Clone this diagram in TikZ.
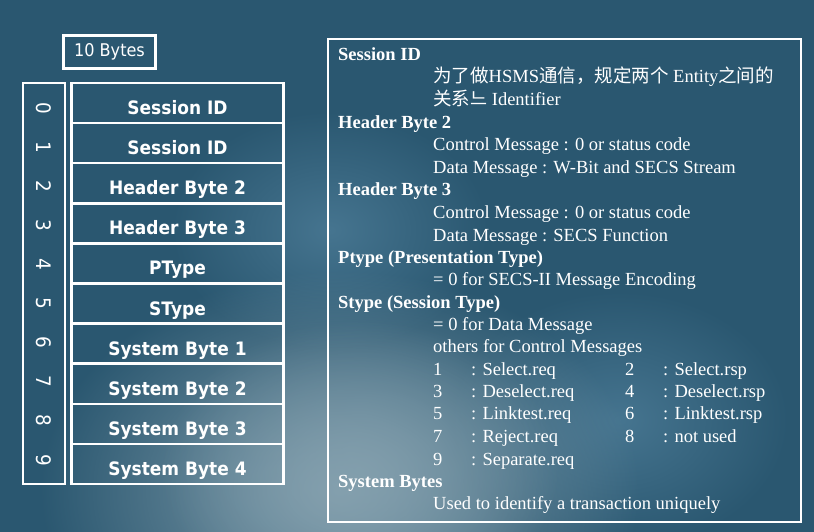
\documentclass[tikz,border=0pt]{standalone}
\usepackage{fontspec}
\usetikzlibrary{fadings}
\setmainfont{Liberation Serif}
\newfontfamily\tah[FakeStretch=0.92]{DejaVu Sans}
\newfontfamily\cjk{Noto Sans CJK SC}
\definecolor{bgA}{HTML}{2A5770}
\definecolor{bgB}{HTML}{84A0AE}
\definecolor{bgC}{HTML}{467590}
\tikzfading[name=glow, inner color=transparent!0, outer color=transparent!100]
\begin{document}
\begin{tikzpicture}[x=1pt,y=-1pt,
  wline/.style={draw=white,line width=2.6pt},
  field/.style={font=\tah\bfseries\fontsize{18.5}{20}\selectfont,text=white,anchor=base,inner sep=0pt},
  digit/.style={font=\tah\fontsize{20}{22}\selectfont,text=white,rotate=-90,inner sep=0pt},
  head/.style={font=\bfseries\fontsize{18.5}{20}\selectfont,text=white,anchor=base west,inner sep=0pt},
  body/.style={font=\fontsize{18.5}{20}\selectfont,text=white,anchor=base west,inner sep=0pt}]
\useasboundingbox (0,0) rectangle (814,532);
\begin{scope}
\clip (0,0) rectangle (814,532);
\fill[bgA] (0,0) rectangle (814,532);
\fill[bgC,path fading=glow] (330,230) ellipse [x radius=160pt,y radius=120pt];
\fill[bgC,path fading=glow] (620,420) ellipse [x radius=170pt,y radius=130pt];
\fill[bgB,path fading=glow] (340,490) ellipse [x radius=300pt,y radius=220pt];
\fill[bgB,path fading=glow,opacity=0.8] (360,470) ellipse [x radius=200pt,y radius=150pt];
\end{scope}
% 10 Bytes box
\node[draw=white,line width=2.6pt,minimum width=92pt,minimum height=33pt,inner sep=0pt,text=white,font=\tah\fontsize{17.5}{20}\selectfont] (bytes) at (109.5,52) {10 Bytes};
% index column
\node[wline,minimum width=42pt,minimum height=401pt,inner sep=0pt] (idx) at (44,283.5) {};
\foreach \d [count=\i from 0] in {0,...,9}{
  \node[digit] (d\d) at (44,{108+39.1*\i}) {\d};
}
% field rows
\foreach \t [count=\i from 0] in {Session ID,Session ID,Header Byte 2,Header Byte 3,PType,SType,System Byte 1,System Byte 2,System Byte 3,System Byte 4}{
  \node[wline,minimum width=212pt,minimum height=40.1pt,inner sep=0pt] (r\i) at (177.5,{103.05+40.1*\i}) {};
  \node[field] (t\i) at (177.5,{103.05+40.1*\i+11.5}) {\t};
}
% description box
\node[wline,minimum width=473pt,minimum height=483pt,inner sep=0pt] (desc) at (564.5,280.5) {};
\node[head] (h1) at (338,61) {Session ID};
\node[body] (l1) at (433,83) {{\cjk 为了做}HSMS{\cjk 通信，规定两个} Entity{\cjk 之间的}};
\node[body] (l2) at (433,106) {{\cjk 关系느} Identifier};
\node[head] (h2) at (338,129) {Header Byte 2};
\node[body] (l3) at (433,151) {Control Message : 0 or status code};
\node[body] (l4) at (433,173) {Data Message : W-Bit and SECS Stream};
\node[head] (h3) at (338,196) {Header Byte 3};
\node[body] (l5) at (433,218) {Control Message : 0 or status code};
\node[body] (l6) at (433,241) {Data Message : SECS Function};
\node[head] (h4) at (338,263) {Ptype (Presentation Type)};
\node[body] (l7) at (433,285) {= 0 for SECS-II Message Encoding};
\node[head] (h5) at (338,308) {Stype (Session Type)};
\node[body] (l8) at (433,330) {= 0 for Data Message};
\node[body] (l9) at (433,352) {others for Control Messages};
\foreach \a/\b/\c/\d [count=\i from 0] in {1/Select.req/2/Select.rsp,3/Deselect.req/4/Deselect.rsp,5/Linktest.req/6/Linktest.rsp,7/Reject.req/8/not used}{
  \node[body] (na\i) at (433,{375+22.4*\i}) {\a};
  \node[body] (ca\i) at (471,{375+22.4*\i}) {: \b};
  \node[body] (nb\i) at (625,{375+22.4*\i}) {\c};
  \node[body] (cb\i) at (663,{375+22.4*\i}) {: \d};
}
\node[body] (na4) at (433,465) {9};
\node[body] (ca4) at (471,465) {: Separate.req};
\node[head] (h6) at (338,487) {System Bytes};
\node[body] (l10) at (433,509) {Used to identify a transaction uniquely};
\end{tikzpicture}
\end{document}
